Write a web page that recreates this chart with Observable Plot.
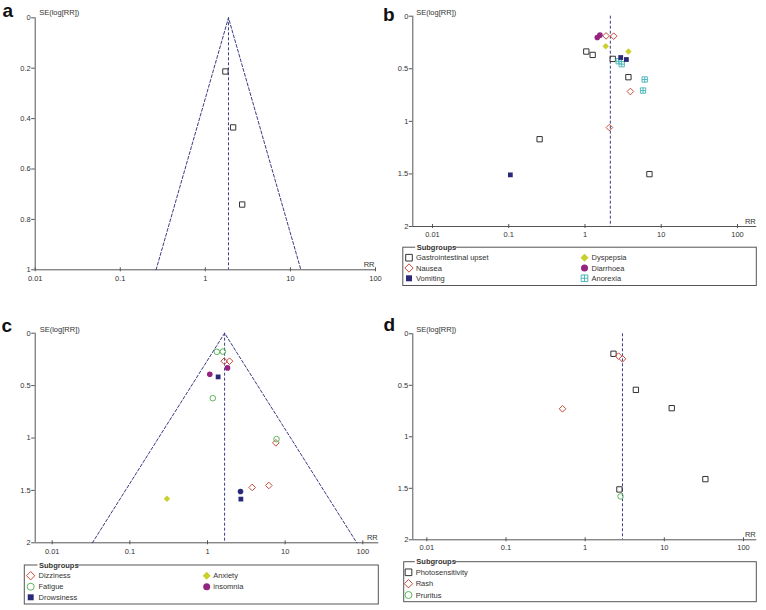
<!DOCTYPE html>
<html><head><meta charset="utf-8">
<script src="https://cdn.jsdelivr.net/npm/d3@7"></script>
<script src="https://cdn.jsdelivr.net/npm/@observablehq/plot@0.6"></script>
<style>
body{margin:0;background:#fff;font-family:"Liberation Sans",Arial,sans-serif;}
#root{position:relative;width:766px;height:610px;overflow:hidden;background:#fff;}
#root > svg{position:absolute;}
</style></head><body><div id="root"></div>
<script>
// ---------- shared ticks ----------
const xTicks = [0.01, 0.1, 1, 10, 100];
const xTickLabels = ["0.01", "0.1", "1", "10", "100"];
const yTicksA = [0, 0.2, 0.4, 0.6, 0.8, 1];
const yLabelsA = ["0", "0.2", "0.4", "0.6", "0.8", "1"];
const yTicksB = [0, 0.5, 1, 1.5, 2];
const yLabelsB = ["0", "0.5", "1", "1.5", "2"];
const yAxisTitle = "SE(log[RR])";
const xAxisTitle = "RR";
const legendTitle = "Subgroups";

// ---------- panel a : [RR, SE] ----------
const aGastro = [[1.72, 0.213], [2.12, 0.435], [2.71, 0.741]];
const aPooled = 1.87;

// ---------- panel b ----------
const bGastro = [[1.04, 0.336], [1.26, 0.368], [2.31, 0.406], [3.71, 0.58], [0.254, 1.17], [7.0, 1.502]];
const bNausea = [[1.89, 0.187], [2.38, 0.19], [3.94, 0.716], [2.09, 1.059]];
const bVomiting = [[2.94, 0.393], [3.49, 0.412], [0.105, 1.509]];
const bDyspepsia = [[1.87, 0.285], [3.71, 0.336]];
const bDiarrhoea = [[1.57, 0.18], [1.45, 0.203]];
const bAnorexia = [[6.07, 0.602], [5.77, 0.707], [2.77, 0.428], [3.03, 0.456]];
const bPooled = 2.15;

// ---------- panel c ----------
const cDizziness = [[1.64, 0.267], [1.92, 0.267], [7.59, 1.046], [3.76, 1.472], [6.16, 1.453]];
const cFatigue = [[1.32, 0.178], [1.58, 0.175], [1.17, 0.62], [7.74, 1.011]];
const cDrowsiness = [[1.37, 0.417], [2.69, 1.583]];
const cAnxiety = [[0.30, 1.58]];
const cInsomnia = [[1.07, 0.391], [1.81, 0.331]];
const cDarkCircle = [[2.66, 1.51]];
const cPooled = 1.66;

// ---------- panel d ----------
const dPhoto = [[2.28, 0.194], [4.37, 0.544], [12.4, 0.722], [33.0, 1.411], [2.71, 1.511]];
const dRash = [[2.64, 0.217], [2.96, 0.243], [0.518, 0.728]];
const dPruritus = [[2.80, 1.579]];
const dPooled = 2.96;

// ---------- styles ----------
const AX = "#555";
const TXT = "#333";
const DASH = "#3b3b85";
const squarePlus = {
  draw(ctx, size) {
    const s = Math.sqrt(size) / 2;
    ctx.moveTo(-s, -s); ctx.lineTo(s, -s); ctx.lineTo(s, s); ctx.lineTo(-s, s); ctx.closePath();
    ctx.moveTo(0, -s); ctx.lineTo(0, s); ctx.moveTo(-s, 0); ctx.lineTo(s, 0);
  }
};
const ST = {
  openSquare: {symbol: "square", r: 3, fill: "none", stroke: "#333", strokeWidth: 1},
  openDiamond: {symbol: "diamond2", r: 3, fill: "none", stroke: "#c94c3c", strokeWidth: 1},
  navySquare: {symbol: "square", r: 2.7, fill: "#2b2a78", stroke: "none"},
  yellowDiamond: {symbol: "diamond2", r: 2.9, fill: "#c9cf2b", stroke: "none"},
  purpleCircle: {symbol: "circle", r: 2.8, fill: "#93247f", stroke: "none"},
  cyanSqPlus: {symbol: squarePlus, r: 3, fill: "none", stroke: "#4fb8bb", strokeWidth: 1},
  greenCircle: {symbol: "circle", r: 2.8, fill: "none", stroke: "#5cb85c", strokeWidth: 1},
  navyCircle: {symbol: "circle", r: 2.8, fill: "#2b2a78", stroke: "none"}
};
const SYM = {square: d3.symbolSquare, diamond2: d3.symbolDiamond2, circle: d3.symbolCircle};

const root = document.getElementById("root");

function panel(cfg) {
  const yMax = cfg.yTicks[cfg.yTicks.length - 1];
  const marks = [
    Plot.ruleX([cfg.xDomain[0]], {stroke: AX, strokeWidth: 1}),
    Plot.ruleY([yMax], {stroke: AX, strokeWidth: 1}),
    Plot.ruleX(xTicks, {x: d => d, y1: yMax, y2: yMax, insetTop: -2, insetBottom: -2, stroke: AX}),
    Plot.axisX({ticks: xTicks, tickFormat: d => xTickLabels[xTicks.indexOf(d)], tickSize: 0, tickPadding: cfg.xPad, label: null, fill: TXT}),
    Plot.axisY({ticks: cfg.yTicks, tickFormat: d => cfg.yLabels[cfg.yTicks.indexOf(d)], tickSize: 3.5, tickPadding: 1, label: null, stroke: AX, fill: TXT}),
    Plot.text([yAxisTitle], {text: d => d, frameAnchor: "top-left", textAnchor: "start", lineAnchor: "bottom", dx: cfg.labDx, dy: cfg.labDy, fill: TXT}),
    Plot.text([xAxisTitle], {text: d => d, frameAnchor: "bottom-right", textAnchor: "end", lineAnchor: "bottom", dx: -1, dy: -2.5, fill: TXT}),
    Plot.ruleX([cfg.pooled], {stroke: DASH, strokeWidth: 1, strokeDasharray: "3,2"})
  ];
  if (cfg.funnel) {
    const z = 1.96;
    const pts = [
      {x: cfg.pooled * Math.exp(-z * yMax), y: yMax},
      {x: cfg.pooled, y: 0},
      {x: cfg.pooled * Math.exp(z * yMax), y: yMax}
    ];
    marks.push(Plot.line(pts, {x: "x", y: "y", stroke: DASH, strokeWidth: 1, strokeDasharray: "3,2"}));
  }
  for (const s of cfg.series) {
    marks.push(Plot.dot(s.data, {x: d => d[0], y: d => d[1], ...s.style}));
  }
  const svg = Plot.plot({
    width: cfg.width, height: cfg.height,
    marginLeft: cfg.mL, marginRight: cfg.mR, marginTop: cfg.mT, marginBottom: cfg.mB,
    style: {fontFamily: "'Liberation Sans', Arial, sans-serif", fontSize: "7.5px", color: TXT, background: "none", overflow: "visible"},
    x: {type: "log", domain: cfg.xDomain},
    y: {domain: [0, yMax], reverse: true},
    marks
  });
  svg.style.position = "absolute";
  svg.style.left = cfg.left + "px";
  svg.style.top = cfg.top + "px";
  root.appendChild(svg);
}

panel({left: 0, top: 0, width: 383, height: 300, mL: 34.7, mR: 8, mT: 17.3, mB: 30.7,
  xDomain: [0.01, 100], yTicks: yTicksA, yLabels: yLabelsA, pooled: aPooled, funnel: true,
  xPad: 6.2, labDx: 4, labDy: -2.5,
  series: [{data: aGastro, style: ST.openSquare}]});

panel({left: 383, top: 0, width: 383, height: 245, mL: 29.3, mR: 9.7, mT: 15.7, mB: 19,
  xDomain: [Math.pow(10, -2.258), Math.pow(10, 2.253)], yTicks: yTicksB, yLabels: yLabelsB, pooled: bPooled, funnel: false,
  xPad: 5.5, labDx: 3.4, labDy: -1,
  series: [
    {data: bGastro, style: ST.openSquare},
    {data: bAnorexia, style: ST.cyanSqPlus},
    {data: bNausea, style: ST.openDiamond},
    {data: bVomiting, style: ST.navySquare},
    {data: bDyspepsia, style: ST.yellowDiamond},
    {data: bDiarrhoea, style: ST.purpleCircle}
  ]});

panel({left: 0, top: 305, width: 383, height: 258, mL: 34.7, mR: 4.7, mT: 27.7, mB: 20.7,
  xDomain: [Math.pow(10, -2.219), Math.pow(10, 2.206)], yTicks: yTicksB, yLabels: yLabelsB, pooled: cPooled, funnel: true,
  xPad: 6, labDx: 4.5, labDy: -1.5,
  series: [
    {data: cDizziness, style: ST.openDiamond},
    {data: cFatigue, style: ST.greenCircle},
    {data: cDrowsiness, style: ST.navySquare},
    {data: cAnxiety, style: ST.yellowDiamond},
    {data: cInsomnia, style: ST.purpleCircle},
    {data: cDarkCircle, style: ST.navyCircle}
  ]});

panel({left: 383, top: 305, width: 383, height: 255, mL: 29.3, mR: 9.7, mT: 28.3, mB: 20.7,
  xDomain: [Math.pow(10, -2.177), Math.pow(10, 2.168)], yTicks: yTicksB, yLabels: yLabelsB, pooled: dPooled, funnel: false,
  xPad: 4.5, labDx: 3.4, labDy: -1.5,
  series: [
    {data: dPhoto, style: ST.openSquare},
    {data: dRash, style: ST.openDiamond},
    {data: dPruritus, style: ST.greenCircle}
  ]});

// ---------- overlay: panel letters & legends ----------
const ov = d3.create("svg").attr("width", 766).attr("height", 610)
  .style("left", "0px").style("top", "0px")
  .attr("font-family", "'Liberation Sans', Arial, sans-serif");
const letters = [["a", 2.5, 17], ["b", 383, 20.5], ["c", 1.5, 331.5], ["d", 383.5, 331]];
for (const [t, x, y] of letters) {
  ov.append("text").attr("x", x).attr("y", y).attr("font-size", 19).attr("font-weight", "bold").attr("fill", "#111").text(t);
}

function legendSym(g, style, x, y, scale) {
  const size = Math.PI * Math.pow(style.r * scale, 2);
  if (style.symbol !== "circle") {
    const sym = typeof style.symbol === "string" ? SYM[style.symbol] : style.symbol;
    g.append("path").attr("d", d3.symbol(sym, size)()).attr("transform", `translate(${x},${y})`)
      .attr("fill", style.fill).attr("stroke", style.stroke).attr("stroke-width", style.strokeWidth || 0);
  } else {
    g.append("circle").attr("cx", x).attr("cy", y).attr("r", style.r * scale)
      .attr("fill", style.fill).attr("stroke", style.stroke).attr("stroke-width", style.strokeWidth || 0);
  }
}

function legend(L) {
  const g = ov.append("g");
  g.append("rect").attr("x", L.x0).attr("y", L.y0).attr("width", L.x1 - L.x0).attr("height", L.y1 - L.y0)
    .attr("fill", "none").attr("stroke", AX).attr("stroke-width", 1);
  g.append("rect").attr("x", L.titleX - 1.5).attr("y", L.y0 - 3).attr("width", 40).attr("height", 6).attr("fill", "#fff");
  g.append("text").attr("x", L.titleX).attr("y", L.y0 + 2.7).attr("font-size", 7.5)
    .attr("font-weight", "bold").attr("fill", TXT).text(legendTitle);
  L.items.forEach((it, i) => {
    const col = i < 3 ? 0 : 1;
    const row = col === 0 ? i : i - 3;
    const sx = col === 0 ? L.sym1 : L.sym2;
    const tx = col === 0 ? L.txt1 : L.txt2;
    const y = L.rows[row];
    legendSym(g, it.style, sx, y, 1.25);
    g.append("text").attr("x", tx).attr("y", y + 2.7).attr("font-size", 7.5).attr("fill", TXT).text(it.name);
  });
}

legend({x0: 402.8, y0: 247.2, x1: 756.3, y1: 285.5, titleX: 416.7, sym1: 409, txt1: 416, sym2: 584.5, txt2: 591.5,
  rows: [257.7, 268, 278.3],
  items: [
    {name: "Gastrointestinal upset", style: ST.openSquare},
    {name: "Nausea", style: ST.openDiamond},
    {name: "Vomiting", style: ST.navySquare},
    {name: "Dyspepsia", style: ST.yellowDiamond},
    {name: "Diarrhoea", style: ST.purpleCircle},
    {name: "Anorexia", style: ST.cyanSqPlus}
  ]});
legend({x0: 24.3, y0: 565, x1: 378.3, y1: 604, titleX: 39, sym1: 30.7, txt1: 38.5, sym2: 206.7, txt2: 213.3,
  rows: [575.7, 586.7, 597.3],
  items: [
    {name: "Dizziness", style: ST.openDiamond},
    {name: "Fatigue", style: ST.greenCircle},
    {name: "Drowsiness", style: ST.navySquare},
    {name: "Anxiety", style: ST.yellowDiamond},
    {name: "insomnia", style: ST.purpleCircle}
  ]});
legend({x0: 403.7, y0: 561.7, x1: 756.3, y1: 601.7, titleX: 416.3, sym1: 408.5, txt1: 415.7, sym2: 584.5, txt2: 591.5,
  rows: [572.3, 583.7, 595],
  items: [
    {name: "Photosensitivity", style: ST.openSquare},
    {name: "Rash", style: ST.openDiamond},
    {name: "Pruritus", style: ST.greenCircle}
  ]});

root.appendChild(ov.node());
</script>
</body></html>
